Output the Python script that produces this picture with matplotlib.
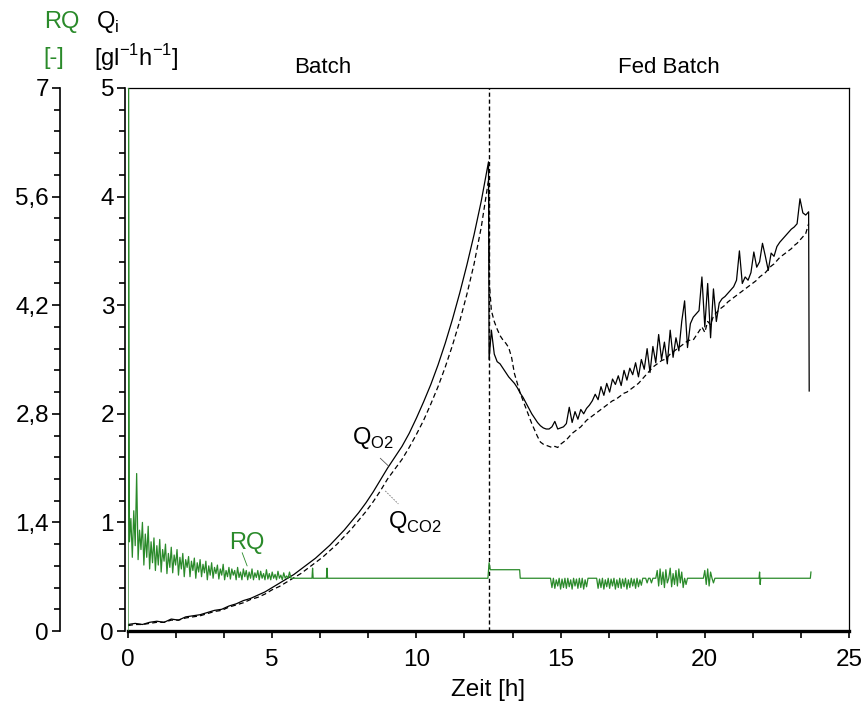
import numpy as np
import matplotlib.pyplot as plt
from matplotlib.ticker import MultipleLocator, FixedLocator, FuncFormatter
import matplotlib.transforms as mtransforms

plt.rcParams['font.family'] = ['Liberation Sans', 'DejaVu Sans']
plt.rcParams['mathtext.fontset'] = 'custom'
plt.rcParams['mathtext.rm'] = 'Liberation Sans'

# ---- data ----
# batch phase, Q values sampled every 0.25 h starting at 0 h
t_batch_start, t_batch_step = 0.0, 0.25
q_o2_batch = [0.06, 0.07, 0.06, 0.08, 0.09, 0.08, 0.11, 0.10, 0.13, 0.14,
              0.15, 0.17, 0.19, 0.20, 0.23, 0.25, 0.28, 0.30, 0.33, 0.36,
              0.40, 0.44, 0.48, 0.52, 0.57, 0.62, 0.67, 0.73, 0.79, 0.86,
              0.93, 1.01, 1.09, 1.18, 1.28, 1.39, 1.50, 1.60, 1.70, 1.82,
              1.96, 2.11, 2.27, 2.45, 2.65, 2.87, 3.11, 3.37, 3.65, 3.96,
              4.32]
q_co2_batch = [0.05, 0.06, 0.06, 0.07, 0.08, 0.08, 0.10, 0.10, 0.12, 0.13,
               0.14, 0.16, 0.18, 0.19, 0.22, 0.24, 0.26, 0.29, 0.31, 0.34,
               0.38, 0.41, 0.45, 0.49, 0.53, 0.58, 0.63, 0.68, 0.74, 0.80,
               0.87, 0.94, 1.02, 1.10, 1.19, 1.29, 1.40, 1.49, 1.58, 1.69,
               1.81, 1.94, 2.09, 2.25, 2.43, 2.63, 2.85, 3.10, 3.38, 3.72,
               4.15]

# switch to feeding at 12.5 h: sharp drop of both rates
t_switch = 12.5
t_o2_drop, q_o2_drop = 12.52, 2.50
t_co2_drop, q_co2_drop = 12.53, 3.20

# fed batch phase, sampled every 0.1 h starting at 12.6 h
t_fed_start, t_fed_step = 12.6, 0.1
q_o2_fed = [2.77, 2.55, 2.48, 2.46, 2.42, 2.38, 2.34, 2.31, 2.28, 2.24,
            2.19, 2.15, 2.10, 2.05, 2.00, 1.96, 1.92, 1.89, 1.87, 1.86,
            1.86, 1.88, 1.93, 1.86, 1.87, 1.88, 1.91, 2.06, 1.92, 2.02,
            1.95, 2.04, 2.00, 2.05, 2.08, 2.12, 2.18, 2.13, 2.25, 2.17,
            2.28, 2.20, 2.32, 2.27, 2.35, 2.26, 2.40, 2.31, 2.42, 2.36,
            2.47, 2.34, 2.50, 2.41, 2.60, 2.38, 2.62, 2.47, 2.73, 2.50,
            2.66, 2.46, 2.77, 2.52, 2.70, 2.58, 2.85, 3.04, 2.61, 2.83,
            2.89, 2.92, 2.95, 3.26, 2.80, 3.20, 2.70, 3.15, 2.85, 3.02,
            3.06, 3.08, 3.11, 3.14, 3.17, 3.23, 3.50, 3.20, 3.26, 3.23,
            3.30, 3.49, 3.35, 3.40, 3.57, 3.45, 3.32, 3.48, 3.45, 3.54,
            3.58, 3.61, 3.64, 3.67, 3.70, 3.72, 3.75, 3.98, 3.85, 3.83,
            3.86]
q_co2_fed = [2.95, 2.85, 2.78, 2.72, 2.68, 2.65, 2.61, 2.52, 2.37, 2.28,
             2.19, 2.12, 2.05, 1.98, 1.91, 1.85, 1.79, 1.74, 1.72, 1.71,
             1.70, 1.69, 1.70, 1.69, 1.72, 1.74, 1.76, 1.79, 1.82, 1.84,
             1.86, 1.88, 1.91, 1.94, 1.96, 1.98, 2.00, 2.02, 2.04, 2.06,
             2.08, 2.10, 2.12, 2.13, 2.15, 2.17, 2.19, 2.20, 2.22, 2.24,
             2.26, 2.28, 2.31, 2.34, 2.37, 2.40, 2.43, 2.45, 2.47, 2.49,
             2.50, 2.52, 2.55, 2.57, 2.59, 2.61, 2.63, 2.65, 2.67, 2.68,
             2.68, 2.72, 2.76, 2.80, 2.75, 2.85, 2.82, 2.90, 2.93, 2.96,
             2.98, 3.00, 3.03, 3.05, 3.07, 3.09, 3.11, 3.13, 3.15, 3.17,
             3.19, 3.21, 3.23, 3.26, 3.28, 3.30, 3.33, 3.36, 3.38, 3.41,
             3.44, 3.46, 3.48, 3.50, 3.52, 3.55, 3.57, 3.60, 3.63, 3.66,
             3.75]

# end of run: Q_O2 falls off
t_o2_end, q_o2_end = 23.62, 2.21

# RQ: start spike, noisy batch part (every 0.05 h from 0.05 h), sparse part, noisy fed part
rq_start_t = [0.0, 0.02]
rq_start = [0.0, 7.5]
t_rq_batch_start, t_rq_step = 0.05, 0.05
rq_batch = [1.15, 1.45, 0.95, 1.55, 1.10, 2.03, 0.92, 1.30, 1.05, 1.40,
            0.85, 1.25, 0.95, 1.35, 0.80, 1.15, 0.88, 1.20, 0.78, 1.10,
            0.85, 1.18, 0.76, 1.05, 0.90, 1.12, 0.74, 1.00, 0.82, 1.08,
            0.75, 0.98, 0.85, 1.05, 0.72, 0.95, 0.80, 1.00, 0.70, 0.92,
            0.82, 0.96, 0.70, 0.90, 0.78, 0.94, 0.68, 0.88, 0.76, 0.92,
            0.70, 0.86, 0.75, 0.90, 0.66, 0.84, 0.72, 0.88, 0.68, 0.82,
            0.74, 0.85, 0.67, 0.80, 0.72, 0.86, 0.66, 0.78, 0.70, 0.82,
            0.67, 0.80, 0.72, 0.78, 0.66, 0.82, 0.69, 0.76, 0.66, 0.80,
            0.70, 0.78, 0.66, 0.76, 0.68, 0.80, 0.66, 0.75, 0.69, 0.78,
            0.66, 0.77, 0.68, 0.74, 0.66, 0.79, 0.67, 0.74, 0.66, 0.76,
            0.68, 0.73, 0.66, 0.77, 0.68, 0.72, 0.66, 0.75, 0.68, 0.71,
            0.68, 0.76, 0.68, 0.68]
rq_mid_t = [5.75, 6.38, 6.40, 6.42, 6.88, 6.90, 6.92, 12.48, 12.52, 12.56,
            13.58, 13.60, 14.60]
rq_mid = [0.68, 0.68, 0.81, 0.68, 0.68, 0.81, 0.68, 0.68, 0.88, 0.79,
          0.79, 0.68, 0.68]
t_rq_fed_start = 14.65
rq_fed = [0.68, 0.56, 0.68, 0.55, 0.66, 0.58, 0.68, 0.54, 0.67, 0.56,
          0.68, 0.55, 0.68, 0.57, 0.66, 0.54, 0.68, 0.58, 0.67, 0.55,
          0.68, 0.56, 0.68, 0.54, 0.66, 0.57, 0.68, 0.68, 0.68, 0.68,
          0.68, 0.68, 0.68, 0.55, 0.67, 0.56, 0.68, 0.54, 0.66, 0.57,
          0.68, 0.55, 0.67, 0.58, 0.68, 0.54, 0.66, 0.56, 0.68, 0.55,
          0.67, 0.57, 0.68, 0.54, 0.66, 0.56, 0.68, 0.58, 0.67, 0.55,
          0.68, 0.57, 0.66, 0.59, 0.68, 0.68, 0.68, 0.62, 0.68, 0.68,
          0.62, 0.68, 0.68, 0.68, 0.78, 0.58, 0.80, 0.60, 0.76, 0.56,
          0.79, 0.62, 0.68, 0.81, 0.57, 0.74, 0.60, 0.78, 0.58, 0.80,
          0.62, 0.76, 0.56, 0.68, 0.60, 0.68, 0.68, 0.68, 0.68, 0.68,
          0.68, 0.68, 0.68, 0.68, 0.68, 0.68, 0.68, 0.78, 0.60, 0.80,
          0.58, 0.76, 0.68, 0.62, 0.68, 0.68, 0.68]
rq_end_t = [20.50, 21.88, 21.90, 21.92, 21.94, 23.66, 23.68]
rq_end = [0.68, 0.68, 0.76, 0.60, 0.68, 0.68, 0.76]

x_ticks = [0, 5, 10, 15, 20, 25]
q_ticks = [0, 1, 2, 3, 4, 5]
rq_ticks = [0, 1.4, 2.8, 4.2, 5.6, 7]

# ---- assemble series ----
t_batch = t_batch_start + t_batch_step * np.arange(len(q_o2_batch))
t_fed = t_fed_start + t_fed_step * np.arange(len(q_o2_fed))
t_o2 = np.concatenate([t_batch, [t_o2_drop], t_fed, [t_o2_end]])
q_o2 = np.concatenate([q_o2_batch, [q_o2_drop], q_o2_fed, [q_o2_end]])
t_co2 = np.concatenate([t_batch, [t_co2_drop], t_fed])
q_co2 = np.concatenate([q_co2_batch, [q_co2_drop], q_co2_fed])

t_rq = np.concatenate([rq_start_t,
                       t_rq_batch_start + t_rq_step * np.arange(len(rq_batch)),
                       rq_mid_t,
                       t_rq_fed_start + t_rq_step * np.arange(len(rq_fed)),
                       rq_end_t])
rq = np.concatenate([rq_start, rq_batch, rq_mid, rq_fed, rq_end])

green = '#2a8a2a'
fs_tick = 17.5
fs_head = 17

fig = plt.figure(figsize=(8.67, 7.11), dpi=100)
ax = fig.add_axes([128 / 867, 1 - 631 / 711, (849 - 128) / 867, (631 - 88) / 711])

ax.plot(t_o2, q_o2, color='black', lw=0.9)
ax.plot(t_co2, q_co2, color='black', lw=0.9, dashes=(4, 2.5))
ax.axvline(t_switch, color='black', lw=1.0, dashes=(3, 2))

ax.set_xlim(0, 25)
ax.set_ylim(0, 5)
ax.xaxis.set_major_locator(FixedLocator(x_ticks))
ax.xaxis.set_minor_locator(MultipleLocator(5 / 3))
ax.yaxis.set_major_locator(FixedLocator(q_ticks))
ax.yaxis.set_minor_locator(MultipleLocator(0.2))
ax.tick_params(axis='x', which='both', direction='out', length=5, width=1.2,
               labelsize=fs_tick, pad=8)
ax.tick_params(axis='y', which='major', direction='out', length=6, width=1.2,
               labelsize=fs_tick, pad=2)
ax.tick_params(axis='y', which='minor', direction='out', length=4, width=1.2)
ax.spines['bottom'].set_linewidth(2.4)
ax.spines['left'].set_linewidth(1.2)
ax.spines['left'].set_position(('outward', 2))
ax.spines['top'].set_linewidth(0.9)
ax.spines['right'].set_linewidth(0.9)
ax.set_xlabel('Zeit [h]', fontsize=fs_tick, labelpad=6)

# RQ on its own scale, drawn as second left axis
ax2 = ax.twinx()
ax2.plot(t_rq, rq, color=green, lw=0.9)
ax2.set_ylim(0, 7)
ax2.yaxis.tick_left()
ax2.spines['left'].set_position(('outward', 49))
ax2.spines['left'].set_linewidth(1.2)
for s in ['right', 'top', 'bottom']:
    ax2.spines[s].set_visible(False)
ax2.yaxis.set_major_locator(FixedLocator(rq_ticks))
ax2.yaxis.set_minor_locator(MultipleLocator(0.28))
ax2.yaxis.set_major_formatter(FuncFormatter(
    lambda v, p: f'{v:.1f}'.replace('.', ',') if abs(v - round(v)) > 1e-6 else f'{int(round(v))}'))
ax2.tick_params(axis='y', which='major', direction='out', length=6, width=1.2,
                labelsize=fs_tick, pad=2)
ax2.tick_params(axis='y', which='minor', direction='out', length=4, width=1.2)

# phase labels above the plot
trans = mtransforms.blended_transform_factory(ax.transData, ax.transAxes)
ax.text(6.75, 1.037, 'Batch', transform=trans, ha='center', va='center', fontsize=16)
ax.text(18.75, 1.037, 'Fed Batch', transform=trans, ha='center', va='center', fontsize=16)

# curve labels with leader lines
ax.text(8.5, 1.78, r'Q$_{\mathregular{O2}}$', ha='center', va='center', fontsize=17)
ax.plot([8.75, 9.03], [1.59, 1.52], color='#555555', lw=0.6)
ax.text(9.95, 1.0, r'Q$_{\mathregular{CO2}}$', ha='center', va='center', fontsize=17)
ax.plot([8.92, 9.375], [1.29, 1.17], color='#777777', lw=0.6, dashes=(2, 1.5))
ax.text(4.13, 0.81, 'RQ', color=green, ha='center', va='center', fontsize=17)
ax.plot([3.96, 4.13], [0.72, 0.60], color=green, lw=0.6)

# axis headers in the top-left corner
fig.text(44 / 867, 1 - 22 / 711, 'RQ', color=green, ha='left', va='center', fontsize=fs_head)
fig.text(43 / 867, 1 - 58 / 711, '[-]', color=green, ha='left', va='center', fontsize=fs_head)
fig.text(96 / 867, 1 - 22 / 711, r'Q$_{\mathregular{i}}$', ha='left', va='center', fontsize=fs_head)
fig.text(94 / 867, 1 - 58 / 711, r'[gl$^{\mathregular{-1}}$h$^{\mathregular{-1}}$]',
         ha='left', va='center', fontsize=fs_head)

fig.savefig('out.png', dpi=100)
